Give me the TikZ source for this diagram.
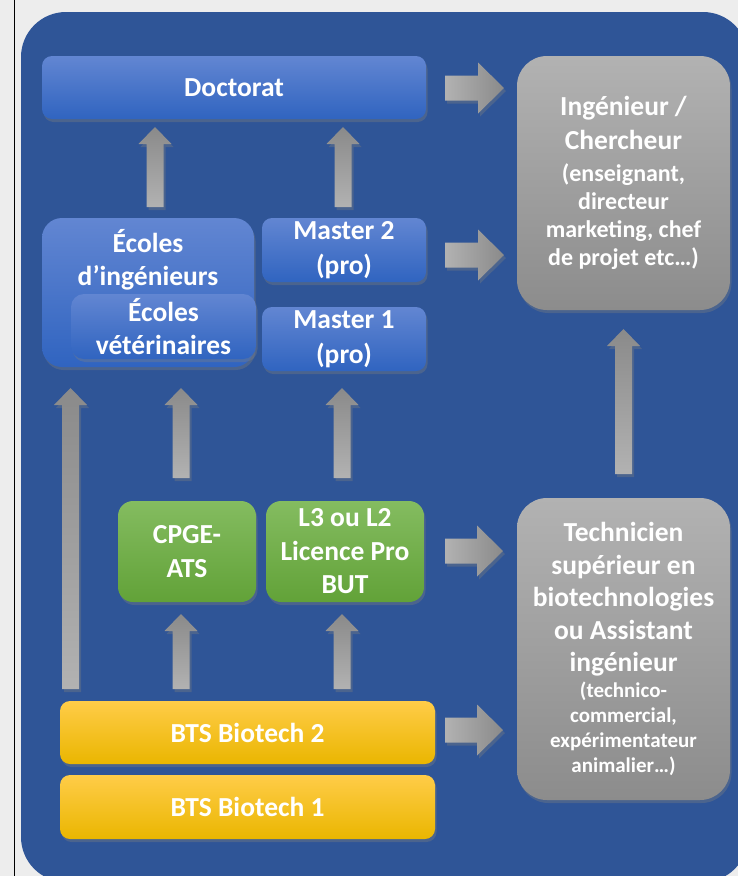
\documentclass[tikz,border=0pt]{standalone}
\usepackage{fontspec}
\setmainfont{Carlito}
\usetikzlibrary{calc,shadows}
\definecolor{outerbg}{RGB}{237,237,237}
\definecolor{panel}{RGB}{47,85,151}
\definecolor{blutop}{RGB}{98,134,210}
\definecolor{blubot}{RGB}{48,100,192}
\definecolor{grntop}{RGB}{132,188,96}
\definecolor{grnbot}{RGB}{98,162,56}
\definecolor{yeltop}{RGB}{255,204,72}
\definecolor{yelmid}{RGB}{255,200,0}
\definecolor{yelbot}{RGB}{234,182,0}
\definecolor{grytop}{RGB}{178,178,178}
\definecolor{grybot}{RGB}{140,140,140}
\definecolor{arrdark}{RGB}{138,138,138}
\definecolor{arrlight}{RGB}{178,178,178}
\newcommand\fbig{\fontsize{27.5}{33.5}\selectfont\bfseries}
\newcommand\fmid{\fontsize{24}{28.5}\selectfont\bfseries}
\newcommand\fsml{\fontsize{21}{25}\selectfont\bfseries}
\tikzset{
  box/.style={rounded corners=#1, inner sep=0pt, outer sep=0pt, align=center,
    text=white, font=\fbig,
    drop shadow={opacity=0.35, shadow xshift=1.5pt, shadow yshift=-3pt}},
  box/.default=10pt,
  blu/.style={top color=blutop, bottom color=blubot},
  grn/.style={top color=grntop, bottom color=grnbot},
  yel/.style={top color=yeltop, middle color=yelmid, bottom color=yelbot},
  gry/.style={top color=grytop, bottom color=grybot},
  txt/.style={inner sep=0pt, align=center, text=white, font=\fbig},
  uparrow/.style={top color=arrdark, bottom color=arrlight,
    drop shadow={opacity=0.35, shadow xshift=2pt, shadow yshift=-3pt}},
  rarrow/.style={left color=arrlight, right color=arrdark,
    drop shadow={opacity=0.35, shadow xshift=2pt, shadow yshift=-3pt}}
}
% up arrow: x, upper node, gap, lower node, gap
\newcommand\uparr[5]{%
  \path[uparrow] let \p1=(#2.south), \p2=(#4.north) in
    (#1pt-8.5pt,\y2+#5pt) -- (#1pt-8.5pt,\y1-#3pt-17pt) -- (#1pt-16.5pt,\y1-#3pt-17pt)
    -- (#1pt,\y1-#3pt) -- (#1pt+16.5pt,\y1-#3pt-17pt) -- (#1pt+8.5pt,\y1-#3pt-17pt)
    -- (#1pt+8.5pt,\y2+#5pt) -- cycle;}
% right arrow: y, left node, gap, right node, gap
\newcommand\rarr[5]{%
  \path[rarrow] let \p1=(#2.east), \p2=(#4.west) in
    (\x1+#3pt,-#1pt+12.5pt) -- (\x2-#5pt-26pt,-#1pt+12.5pt) -- (\x2-#5pt-26pt,-#1pt+25.5pt)
    -- (\x2-#5pt,-#1pt) -- (\x2-#5pt-26pt,-#1pt-25.5pt) -- (\x2-#5pt-26pt,-#1pt-12.5pt)
    -- (\x1+#3pt,-#1pt-12.5pt) -- cycle;}
\begin{document}
\begin{tikzpicture}[x=1pt,y=-1pt]
\useasboundingbox (0,0) rectangle (738,876);
\clip (0,0) rectangle (738,876);
\fill[outerbg] (0,0) rectangle (738,876);
\draw[black, line width=1pt] (14.5,0) -- (14.5,876);
\fill[panel, rounded corners=45pt] (21,12) rectangle (748,882);

% top row
\node[box, blu, minimum width=384pt, minimum height=63pt] (doct) at (234,87.5) {Doctorat};
\node[box=30pt, gry, minimum width=213pt, minimum height=254pt] (ingen) at (623.5,183)
  {Ingénieur /\\Chercheur\\[-1pt]\fmid (enseignant,\\[-5.5pt]\fmid directeur\\[-5.5pt]\fmid marketing, chef\\[-5.5pt]\fmid de projet etc…)};

% middle row
\node[box=20pt, blu, minimum width=212pt, minimum height=149pt] (ing) at (148,292.5) {};
\node[txt] (ingt) at (148,260) {Écoles\\d’ingénieurs};
\node[box=13pt, blu, minimum width=185pt, minimum height=65pt] (vet) at (163.5,326.5) {Écoles\\vétérinaires};
\node[box, blu, minimum width=164pt, minimum height=64pt] (m2) at (344,250) {Master 2\\[1pt](pro)};
\node[box, blu, minimum width=164pt, minimum height=64pt] (m1) at (344,339) {Master 1\\[1pt](pro)};

% green row
\node[box=15pt, grn, minimum width=138pt, minimum height=101pt] (cpge) at (187,551.5) {CPGE-\\ATS};
\node[box=15pt, grn, minimum width=158pt, minimum height=101pt] (l3) at (345,551.5) {L3 ou L2\\Licence Pro\\BUT};

% gray bottom right
\node[box=30pt, gry, minimum width=213pt, minimum height=302pt] (tech) at (623.5,649)
  {Technicien\\[-1pt]supérieur en\\[-1pt]biotechnologies\\[-1pt]ou Assistant\\[-1pt]ingénieur\\[-8pt]\fsml (technico-\\[-8.5pt]\fsml commercial,\\[-8.5pt]\fsml expérimentateur\\[-8.5pt]\fsml animalier…)};

% BTS
\node[box, yel, minimum width=375pt, minimum height=63pt] (bts2) at (247.5,732.5) {BTS Biotech 2};
\node[box, yel, minimum width=375pt, minimum height=64pt] (bts1) at (247.5,807) {BTS Biotech 1};

% arrows up
\uparr{155}{doct}{8}{ing}{11}
\uparr{343}{doct}{8}{m2}{11}
\uparr{70.5}{ing}{21}{bts2}{12}
\uparr{181}{ing}{21}{cpge}{23}
\uparr{342}{m1}{17}{l3}{23}
\uparr{181}{cpge}{12}{bts2}{12}
\uparr{342}{l3}{12}{bts2}{12}
\uparr{623.5}{ingen}{19}{tech}{24}

% arrows right
\rarr{88}{doct}{19}{ingen}{13}
\rarr{255}{m2}{19}{ingen}{13}
\rarr{551}{l3}{21}{tech}{14}
\rarr{730}{bts2}{10}{tech}{14}
\end{tikzpicture}
\end{document}
